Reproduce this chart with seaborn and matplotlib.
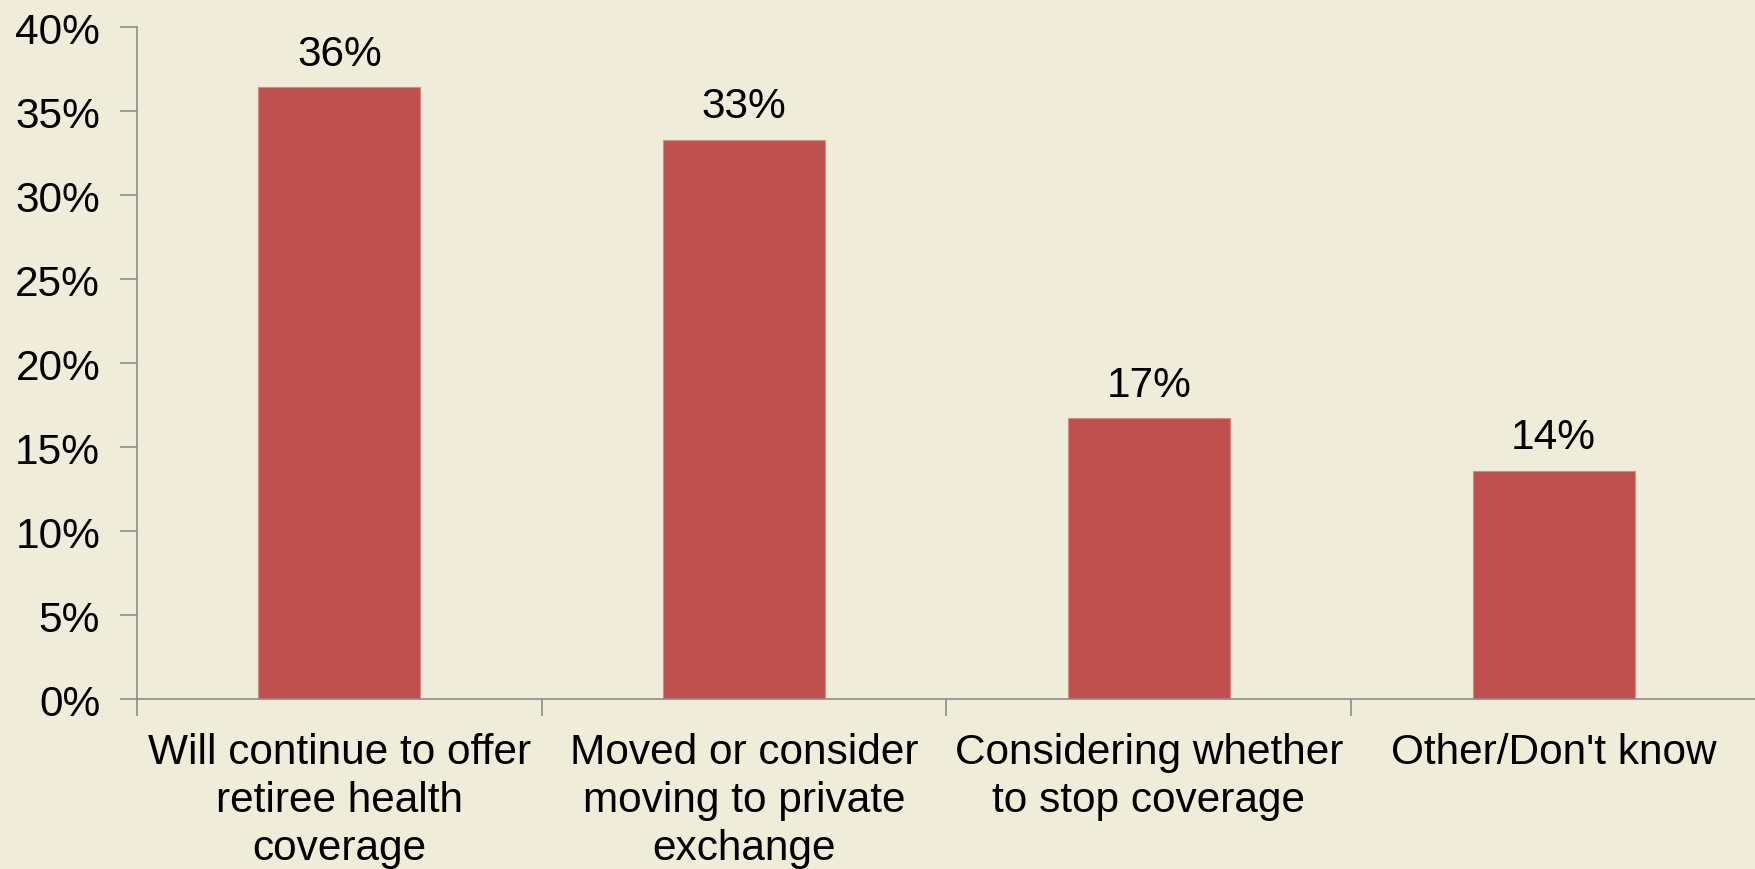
import matplotlib
matplotlib.use("Agg")
import matplotlib.pyplot as plt
import seaborn as sns
import pandas as pd
from matplotlib.ticker import FixedLocator, MultipleLocator, FuncFormatter

categories = [
    "Will continue to offer\nretiree health\ncoverage",
    "Moved or consider\nmoving to private\nexchange",
    "Considering whether\nto stop coverage",
    "Other/Don't know",
]
values = [36.4, 33.3, 16.7, 13.6]

bg = "#EFEDD9"
bar_color = "#C0504D"
axis_gray = "#8C8C8C"
fs = 30.5

sns.set_theme(style="white")
plt.rcParams["font.family"] = ["Liberation Sans", "DejaVu Sans"]

df = pd.DataFrame({"category": categories, "value": values})

fig = plt.figure(figsize=(17.56, 8.70), dpi=100, facecolor=bg)
ax = fig.add_axes([0.078, 0.1954, 0.922, 0.7724])
ax.set_facecolor(bg)

sns.barplot(data=df, x="category", y="value", color=bar_color, width=0.4,
            saturation=1, edgecolor="#D48A88", linewidth=0.8, ax=ax)

ax.set_xlim(-0.5, len(categories) - 0.5)
ax.set_ylim(0, 40)
ax.yaxis.set_major_locator(MultipleLocator(5))
ax.yaxis.set_major_formatter(FuncFormatter(lambda v, _: f"{v:.0f}%"))

# category boundaries carry the tick marks; labels sit between them
ax.xaxis.set_minor_locator(FixedLocator([i - 0.5 for i in range(len(categories) + 1)]))
ax.tick_params(axis="x", which="major", length=0, pad=24, labelsize=fs, colors="black")
ax.tick_params(axis="x", which="minor", length=12, width=1.2, color=axis_gray, direction="out")
ax.tick_params(axis="y", which="major", length=12, width=1.2, color=axis_gray,
               direction="out", pad=14.5, labelsize=fs, labelcolor="black")
ax.tick_params(axis="x", bottom=True, which="both")
ax.tick_params(axis="y", left=True)

ax.set_xlabel("")
ax.set_ylabel("")

for side in ["top", "right"]:
    ax.spines[side].set_visible(False)
for side in ["left", "bottom"]:
    ax.spines[side].set_color(axis_gray)
    ax.spines[side].set_linewidth(1.2)

for lbl in ax.get_xticklabels():
    lbl.set_multialignment("center")
    lbl.set_linespacing(1.25)

ax.bar_label(ax.containers[0], labels=[f"{v:.0f}%" for v in values],
             padding=10, fontsize=fs, color="black")

fig.savefig("out.png", dpi=100, facecolor=bg)
